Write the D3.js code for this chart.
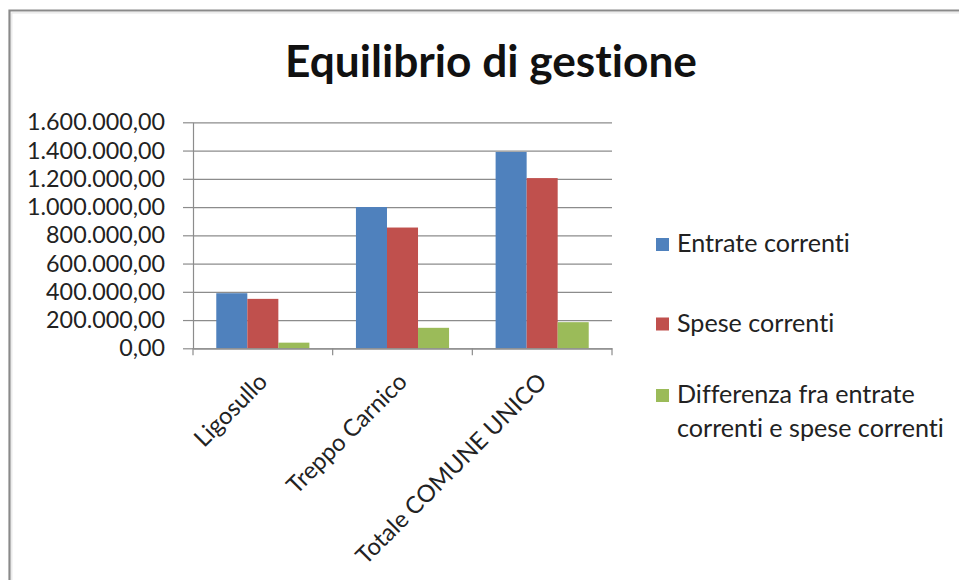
<!DOCTYPE html>
<html><head><meta charset="utf-8">
<script src="https://cdn.jsdelivr.net/npm/d3@7"></script>
<style>body{margin:0;background:#fff} svg{display:block} text{font-variant-ligatures:none;font-feature-settings:"liga" 0,"clig" 0}</style>
</head><body><svg id="c" width="959" height="580"></svg>
<script>
const title = "Equilibrio di gestione";
const categories = ["Ligosullo", "Treppo Carnico", "Totale COMUNE UNICO"];
const seriesNames = ["Entrate correnti", "Spese correnti", "Differenza fra entrate correnti e spese correnti"];
const legendLines = [["Entrate correnti"], ["Spese correnti"], ["Differenza fra entrate", "correnti e spese correnti"]];
const entrate = [390000, 1000000, 1390000];
const spese = [350000, 855000, 1205000];
const differenza = [40000, 145000, 185000];
const yTicks = [0, 200000, 400000, 600000, 800000, 1000000, 1200000, 1400000, 1600000];
const colors = ["#4F81BD", "#C0504D", "#9BBB59"];

(function() {
const svg = d3.select("#c");
const FONT = "Lato, 'Open Sans', sans-serif";
const itLocale = d3.formatLocale({decimal: ",", thousands: ".", grouping: [3], currency: ["€", ""]});
const fmt = itLocale.format(",.2f");

// frame border
svg.append("path").attr("d", "M9.5,580 V10.5 H959").attr("fill", "none")
  .attr("stroke", "#8a8a8a").attr("stroke-width", 2.2);
svg.append("path").attr("d", "M11.8,580 V12.8 H959").attr("fill", "none")
  .attr("stroke", "#e6e6e6").attr("stroke-width", 1.2);

function fit(sel, target) {
  const n = sel.node();
  const fs = parseFloat(sel.attr("font-size"));
  const w = n.getComputedTextLength();
  sel.attr("font-size", (fs * target / w).toFixed(2));
}

// title
const t = svg.append("text").attr("x", 491).attr("y", 77).attr("text-anchor", "middle")
  .attr("font-family", FONT).attr("font-weight", "bold").attr("font-size", 38)
  .attr("fill", "#111").text(title);
fit(t, 412);

const pL = 193, pR = 612, pT = 122.3, pB = 348.3;
const x = d3.scaleBand().domain(categories).range([pL, pR]).paddingInner(0).paddingOuter(0);
const xs = d3.scaleBand().domain(seriesNames).range([0, x.bandwidth()]).paddingInner(0).paddingOuter(0.75);
const y = d3.scaleLinear().domain([0, 1600000]).range([pB, pT]);

// gridlines
const grid = svg.append("g").attr("transform", `translate(${pL},0)`)
  .call(d3.axisLeft(y).tickValues(yTicks).tickSize(-(pR - pL)).tickFormat(""));
grid.select(".domain").remove();
grid.selectAll("line").attr("stroke", "#8c8c8c").attr("stroke-width", 1.2);

// y axis
const ya = svg.append("g").attr("transform", `translate(${pL},0)`)
  .call(d3.axisLeft(y).tickValues(yTicks).tickSizeInner(10).tickSizeOuter(0).tickPadding(18).tickFormat(fmt));
ya.select(".domain").attr("stroke", "#8c8c8c").attr("stroke-width", 1.2);
ya.selectAll("line").attr("stroke", "#8c8c8c").attr("stroke-width", 1.2);
ya.selectAll("text").attr("font-family", FONT).attr("font-size", 19).attr("fill", "#222");
{
  const lab = ya.selectAll("text").filter(d => d === 1600000);
  const w = lab.node().getComputedTextLength();
  ya.selectAll("text").attr("font-size", (19 * 138 / w).toFixed(2));
}

// bars
const series = [entrate, spese, differenza];
categories.forEach((c, i) => {
  series.forEach((s, j) => {
    svg.append("rect")
      .attr("x", x(c) + xs(seriesNames[j]))
      .attr("width", xs.bandwidth())
      .attr("y", y(s[i]))
      .attr("height", y(0) - y(s[i]))
      .attr("fill", colors[j]);
  });
});

// x axis
const xa = svg.append("g").attr("transform", `translate(0,${pB})`)
  .call(d3.axisBottom(x).tickSize(0).tickFormat(""));
xa.select(".domain").attr("stroke", "#8c8c8c").attr("stroke-width", 1.2);
xa.selectAll(".tick").remove();
const bounds = categories.map(c => x(c)).concat([x(categories[categories.length - 1]) + x.bandwidth()]);
xa.selectAll("line.b").data(bounds).enter().append("line")
  .attr("x1", d => d).attr("x2", d => d).attr("y1", 0).attr("y2", 7)
  .attr("stroke", "#8c8c8c").attr("stroke-width", 1.2);

const xl = svg.append("g");
const xlab = xl.selectAll("text").data(categories).enter().append("text")
  .attr("text-anchor", "end")
  .attr("font-family", FONT).attr("font-size", 19).attr("fill", "#222")
  .attr("transform", d => `translate(${x(d) + x.bandwidth() / 2 + 6},${pB + 35}) rotate(-45)`)
  .text(d => d);
{
  const n = xlab.filter(d => d === "Totale COMUNE UNICO").node();
  const w = n.getComputedTextLength();
  xlab.attr("font-size", (19 * 258 / w).toFixed(2));
}

// legend
const lg = svg.append("g");
const rowY = [252, 331.5, 403];
legendLines.forEach((lines, j) => {
  lg.append("rect").attr("x", 656).attr("y", rowY[j] - 14).attr("width", 13).attr("height", 13).attr("fill", colors[j]);
  lines.forEach((ln, k) => {
    lg.append("text").attr("class", "lt").attr("x", 677).attr("y", rowY[j] + k * 33.5)
      .attr("font-family", FONT).attr("font-size", 20).attr("fill", "#222").text(ln);
  });
});
{
  const n = lg.selectAll("text.lt").filter(function() { return this.textContent === "Entrate correnti"; }).node();
  const w = n.getComputedTextLength();
  lg.selectAll("text.lt").attr("font-size", (20 * 173 / w).toFixed(2));
}
})();
</script></body></html>
